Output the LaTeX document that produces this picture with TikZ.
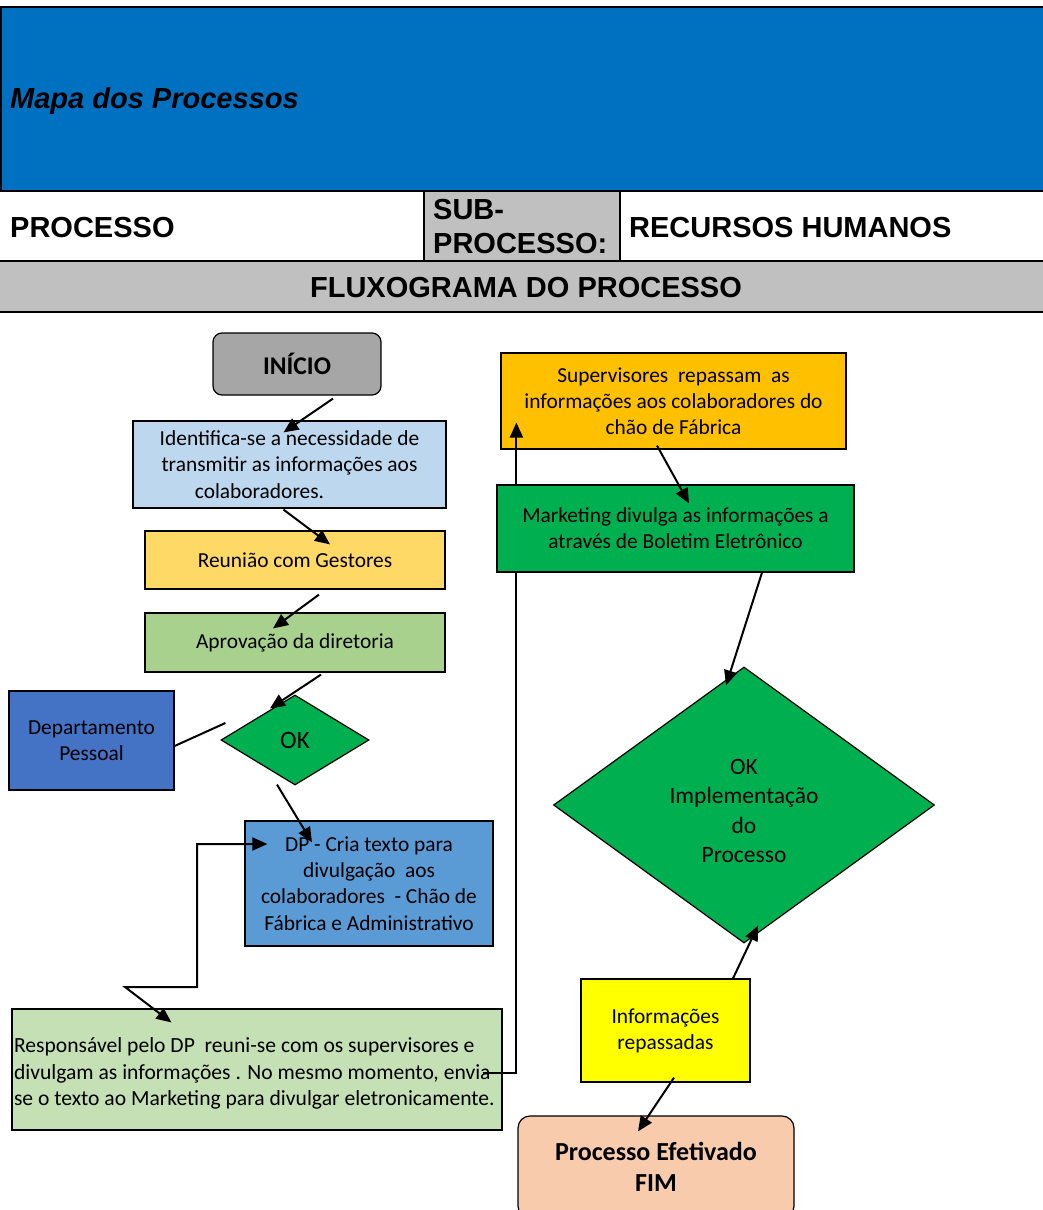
\documentclass[tikz,border=0pt]{standalone}
\usepackage{fontspec}
\setmainfont{Carlito}
\newfontfamily\arialf{Liberation Sans}
\usetikzlibrary{shapes.geometric,arrows.meta,calc}
\definecolor{hdrblue}{HTML}{0070C0}
\definecolor{hdrgray}{HTML}{C0C0C0}
\definecolor{inigray}{HTML}{A6A6A6}
\definecolor{identc}{HTML}{BDD7EE}
\definecolor{reunc}{HTML}{FFD966}
\definecolor{aprovc}{HTML}{A9D18E}
\definecolor{okgreen}{HTML}{00B050}
\definecolor{deptc}{HTML}{4472C4}
\definecolor{dpc}{HTML}{5B9BD5}
\definecolor{respc}{HTML}{C5E0B4}
\definecolor{supc}{HTML}{FFC000}
\definecolor{infoc}{HTML}{FFFF00}
\definecolor{fimc}{HTML}{F8CBAD}
\begin{document}
\begin{tikzpicture}[x=1pt,y=-1pt,
  box/.style={draw=black, line width=1.2pt, inner sep=0pt, align=center, font=\fontsize{21.4}{26.2}\selectfont},
  dia/.style={box, diamond},
  arr/.style={line width=2pt, -{Triangle[length=15pt,width=13pt]}},
  plain/.style={line width=2pt},
  hdr/.style={font=\arialf\fontsize{29}{35}\selectfont\bfseries, inner sep=0pt, anchor=base west}
]
\useasboundingbox (0,0) rectangle (1043,1210);
% header
\fill[hdrgray] (0,261) rectangle (1043,312);
\fill[hdrgray] (424,191) rectangle (620,261);
\filldraw[fill=hdrblue, draw=black, line width=2.5pt] (1,7) rectangle (1060,191);
\draw[line width=2.5pt] (0,261) -- (1043,261);
\draw[line width=2.5pt] (0,312) -- (1043,312);
\draw[line width=2pt] (424,191) -- (424,261) (620,191) -- (620,261);
\node[hdr, font=\arialf\fontsize{29}{35}\selectfont\bfseries\itshape] (title) at (10,108) {Mapa dos Processos};
\node[hdr] (proc) at (10,237) {PROCESSO};
\node[hdr] (sub1) at (433,219) {SUB-};
\node[hdr] (sub2) at (433,253) {PROCESSO:};
\node[hdr] (rh) at (629,237) {RECURSOS HUMANOS};
\node[hdr, anchor=base] (flux) at (526,297) {FLUXOGRAMA DO PROCESSO};
% nodes
\node[box, fill=inigray, rounded corners=9pt, minimum width=168pt, minimum height=62pt, font=\fontsize{25.5}{30}\selectfont\bfseries] (ini) at (297,364) {INÍCIO};
\node[box, fill=identc, minimum width=313pt, minimum height=87pt] (ident) at (289.5,464.5) {Identifica-se a necessidade de\\transmitir as informações aos\\colaboradores.\hspace*{60pt}};
\node[box, fill=reunc, minimum width=300pt, minimum height=58pt] (reun) at (295,560) {Reunião com Gestores};
\node[box, fill=aprovc, minimum width=300pt, minimum height=59pt] (aprov) at (295,642.5) {Aprovação da diretoria};
\node[dia, fill=okgreen, minimum width=148pt, minimum height=90pt, font=\fontsize{25}{30}\selectfont] (ok) at (295,740) {OK};
\node[box, fill=deptc, minimum width=165pt, minimum height=99pt] (dept) at (91.5,740.5) {Departamento\\Pessoal};
\node[box, fill=dpc, minimum width=248pt, minimum height=125pt] (dp) at (369,883.5) {DP - Cria texto para\\divulgação\ \ aos\\colaboradores\ \ - Chão de\\Fábrica e Administrativo};
\node[box, fill=respc, minimum width=490pt, minimum height=121pt, text width=486pt, inner xsep=2pt, align=flush left, font=\fontsize{21.6}{26.5}\selectfont] (resp) at (257,1069.5) {\rule{0pt}{23pt}\mbox{Responsável pelo DP\ \ reuni-se com os supervisores e}\\\mbox{divulgam as informações . No mesmo momento, envia-}\\\mbox{se o texto ao Marketing para divulgar eletronicamente.}};
\node[box, fill=supc, minimum width=345pt, minimum height=96pt] (sup) at (673.5,401) {Supervisores\ \ repassam\ \ as\\informações aos colaboradores do\\chão de Fábrica};
\node[dia, fill=okgreen, minimum width=381pt, minimum height=276pt, font=\fontsize{23.5}{29.6}\selectfont] (ok2) at (744,805) {\rule{0pt}{27pt}OK\\Implementação\\do\\Processo};
\node[box, fill=infoc, minimum width=169pt, minimum height=103pt] (info) at (665.5,1030.5) {Informações\\repassadas};
\node[box, fill=fimc, rounded corners=12pt, minimum width=276pt, minimum height=102pt, font=\fontsize{26}{31}\selectfont\bfseries] (fim) at (656,1167) {Processo Efetivado\\FIM};
% connector behind Marketing box
\draw[arr] ($(resp.east)+(-20,3.5)$) -| ($(sup.south west)+(16,-27)$);
\node[box, fill=okgreen, minimum width=357pt, minimum height=87pt] (mkt) at (675.5,528.5) {Marketing divulga as informações a\\através de Boletim Eletrônico};
% connectors
\draw[arr] ($(ini.south)+(36,3)$) -- ($(ident.north)+(-6,12)$);
\draw[arr] ($(ident.south)+(-6,1)$) -- ($(reun.north)+(35,14)$);
\draw[arr] ($(reun.south)+(24,5)$) -- ($(aprov.north)+(-22,16)$);
\draw[arr] ($(aprov.south)+(26,2)$) -- ($(ok.north)+(-25,14)$);
\draw[plain] ($(dept.east)+(0,5.5)$) -- ($(ok.west)+(5,-17)$);
\draw[arr] ($(ok.south)+(-18,-1)$) -- ($(dp.north)+(-57,22)$);
\coordinate (c1) at (125,987);
\coordinate (c2) at (197,987);
\draw[line width=2pt, {Triangle[length=15pt,width=13pt]}-{Triangle[length=15pt,width=13pt]}] ($(resp.north west)+(160,14)$) -- (c1) -- (c2) |- ($(dp.west)+(23,-39.5)$);
\draw[arr] ($(sup.south)+(-16.5,-4)$) -- ($(mkt.north)+(13.5,19)$);
\draw[arr] ($(mkt.south)+(86.5,0)$) -- ($(ok2.north)+(-18,19)$);
\draw[arr] ($(info.north)+(67.5,0)$) -- ($(ok2.south)+(14,-18)$);
\draw[arr] ($(info.south)+(8.5,-5)$) -- ($(fim.north)+(-18,16)$);
\end{tikzpicture}
\end{document}
